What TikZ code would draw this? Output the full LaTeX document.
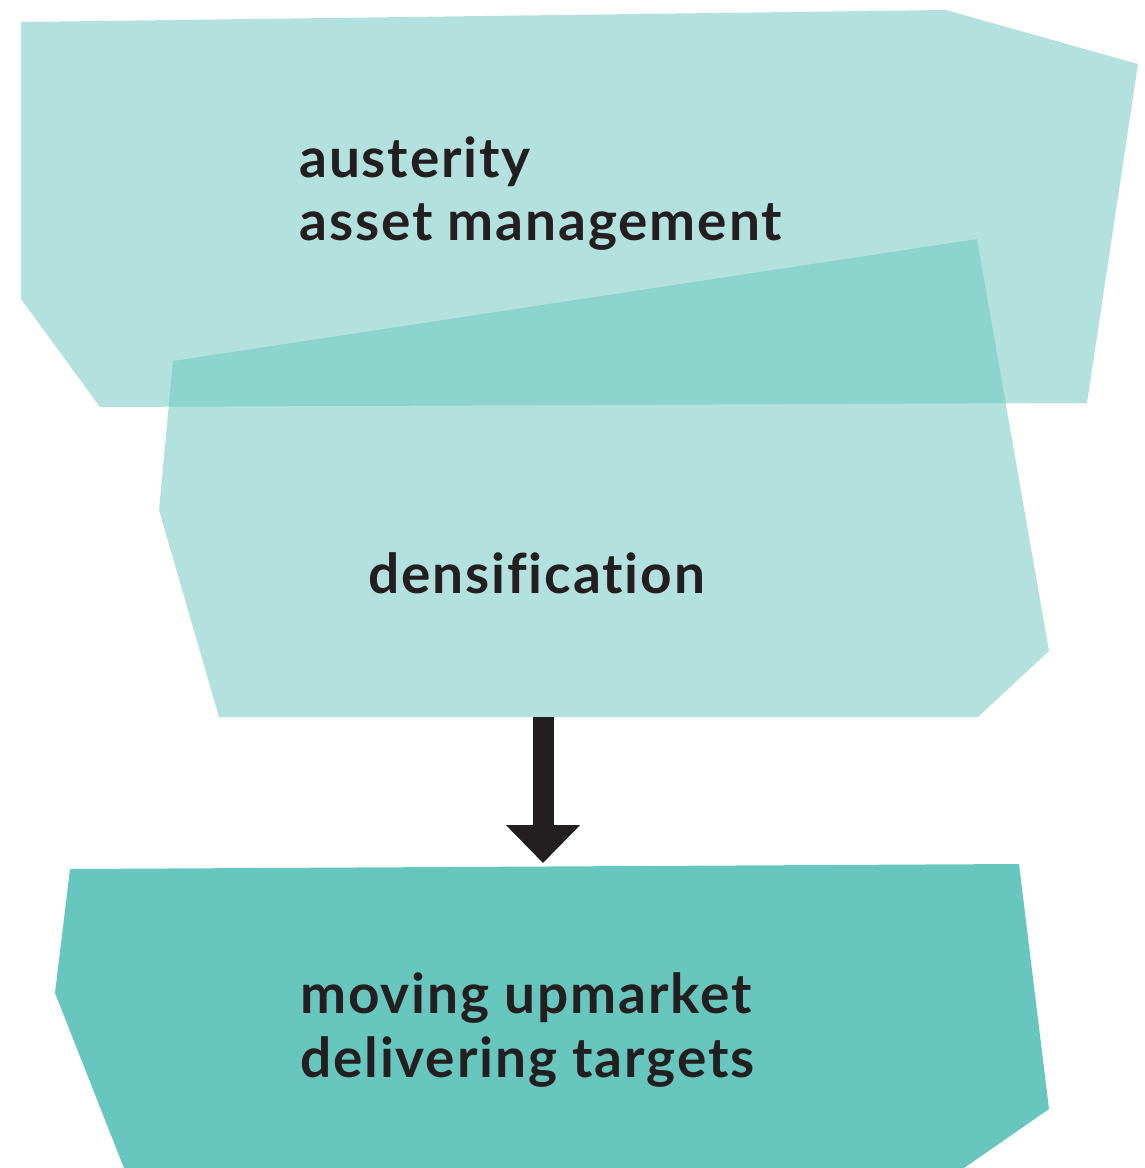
\documentclass[tikz,border=0pt]{standalone}
\usepackage{fontspec}
\usetikzlibrary{arrows.meta}
\newfontfamily\lblfont{Lato}[Ligatures={NoCommon,NoRare,NoContextual}, LetterSpace=3.4]
\definecolor{teal}{HTML}{67C6BD}
\definecolor{ink}{HTML}{231F20}
\tikzset{
  panel/.style={fill=teal, fill opacity=0.5, draw=none},
  solidpanel/.style={fill=teal, draw=none},
  lbl/.style={anchor=base west, inner sep=0pt, text=ink, font=\lblfont\bfseries\fontsize{55}{63}\selectfont},
  flow/.style={draw=ink, line width=21pt, -{Triangle[width=72pt,length=38pt]}}
}
\begin{document}
\begin{tikzpicture}[x=1pt,y=-1pt]
\useasboundingbox (0,0) rectangle (1144,1168);
% top panel
\path[panel] (21,22) -- (946,10) -- (1138,64) -- (1087,403) -- (100,407) -- (21,299) -- cycle;
% middle panel
\path[panel] (173,361) -- (977,239) -- (1049,651) -- (978,717) -- (219,717) -- (159,510) -- cycle;
% bottom panel
\path[solidpanel] (70,869) -- (1019,864) -- (1049,1109) -- (964,1168) -- (124,1168) -- (55,993) -- cycle;
% labels
\node[lbl] (aus) at (299,177) {austerity};
\node[lbl] (asset) at (299,240) {asset management};
\node[lbl] (dens) at (368,593) {densification};
\node[lbl] (mov) at (300,1013) {moving upmarket};
\node[lbl] (del) at (300,1077) {delivering targets};
% arrow
\coordinate (astart) at (543,717);
\coordinate (aend) at (543,863);
\draw[flow] (astart) -- (aend);
\end{tikzpicture}
\end{document}
